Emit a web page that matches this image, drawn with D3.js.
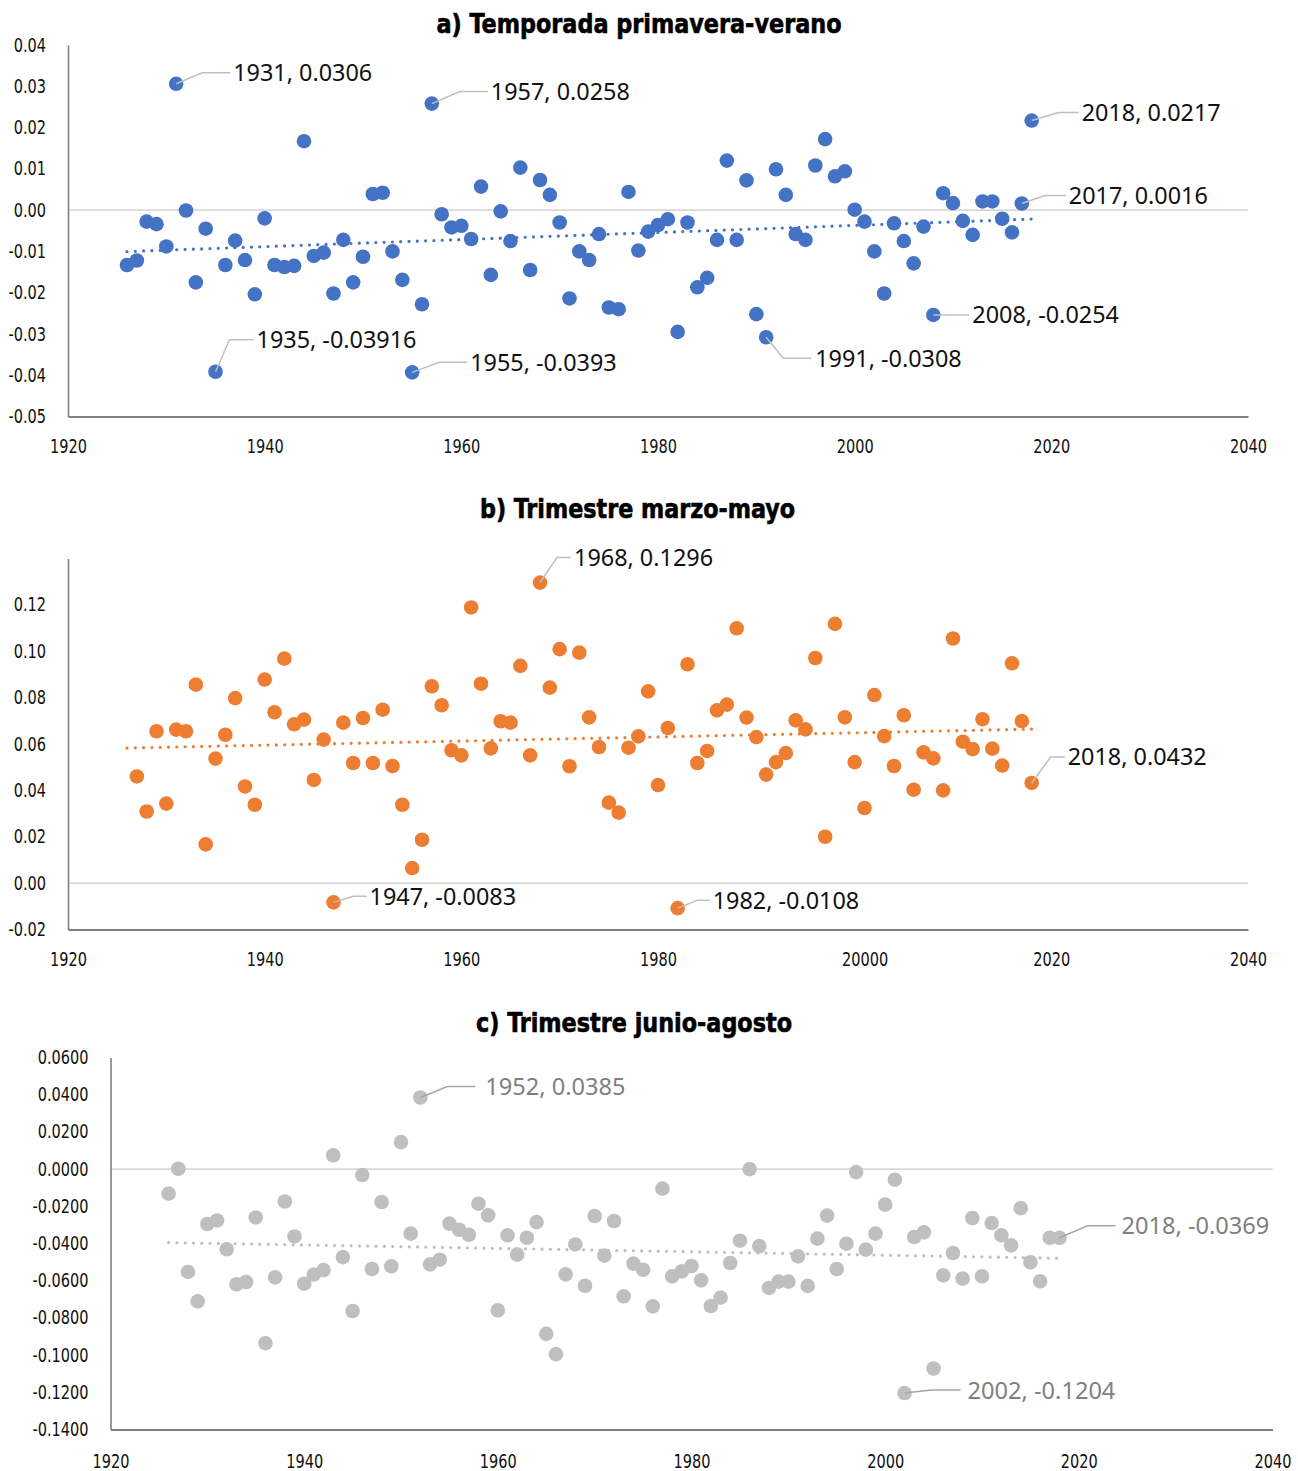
<!DOCTYPE html>
<html>
<head>
<meta charset="utf-8">
<script src="https://cdn.jsdelivr.net/npm/d3@7"></script>
<style>
  html, body { margin: 0; padding: 0; background: #ffffff; }
  svg { display: block; }
</style>
</head>
<body>
<svg id="chart" width="1298" height="1471"></svg>
<script>
// ---------------------------------------------------------------------------
// Data
// ---------------------------------------------------------------------------
const years = [
  1926, 1927, 1928, 1929, 1930, 1931, 1932, 1933, 1934, 1935,
  1936, 1937, 1938, 1939, 1940, 1941, 1942, 1943, 1944, 1945,
  1946, 1947, 1948, 1949, 1950, 1951, 1952, 1953, 1954, 1955,
  1956, 1957, 1958, 1959, 1960, 1961, 1962, 1963, 1964, 1965,
  1966, 1967, 1968, 1969, 1970, 1971, 1972, 1973, 1974, 1975,
  1976, 1977, 1978, 1979, 1980, 1981, 1982, 1983, 1984, 1985,
  1986, 1987, 1988, 1989, 1990, 1991, 1992, 1993, 1994, 1995,
  1996, 1997, 1998, 1999, 2000, 2001, 2002, 2003, 2004, 2005,
  2006, 2007, 2008, 2009, 2010, 2011, 2012, 2013, 2014, 2015,
  2016, 2017, 2018
];

// a) Temporada primavera-verano
const springSummer = [
  -0.0133, -0.0122, -0.0028, -0.0034, -0.0088, 0.0306, -0.0001, -0.0175, -0.0045, -0.03916,
  -0.0133, -0.0074, -0.0121, -0.0204, -0.0020, -0.0133, -0.0138, -0.0135, 0.0167, -0.0111,
  -0.0103, -0.0202, -0.0072, -0.0175, -0.0113, 0.0039, 0.0042, -0.0100, -0.0169, -0.0393,
  -0.0228, 0.0258, -0.0010, -0.0042, -0.0038, -0.0070, 0.0057, -0.0157, -0.0003, -0.0075,
  0.0103, -0.0145, 0.0073, 0.0037, -0.0030, -0.0214, -0.0100, -0.0121, -0.0058, -0.0236,
  -0.0240, 0.0044, -0.0098, -0.0052, -0.0036, -0.0022, -0.0295, -0.0030, -0.0187, -0.0164,
  -0.0072, 0.0120, -0.0072, 0.0072, -0.0252, -0.0308, 0.0099, 0.0037, -0.0058, -0.0072,
  0.0108, 0.0172, 0.0082, 0.0094, 0.0001, -0.0028, -0.0100, -0.0202, -0.0032, -0.0075,
  -0.0129, -0.0040, -0.0254, 0.0041, 0.0017, -0.0026, -0.0060, 0.0021, 0.0021, -0.0021,
  -0.0054, 0.0016, 0.0217
];

// b) Trimestre marzo-mayo (no value for 1926)
const marchMay = [
  null, 0.0460, 0.0309, 0.0655, 0.0343, 0.0662, 0.0655, 0.0856, 0.0167, 0.0537,
  0.0640, 0.0798, 0.0417, 0.0338, 0.0878, 0.0737, 0.0968, 0.0685, 0.0705, 0.0445,
  0.0619, -0.0083, 0.0692, 0.0518, 0.0712, 0.0518, 0.0748, 0.0505, 0.0338, 0.0065,
  0.0187, 0.0849, 0.0767, 0.0573, 0.0551, 0.1189, 0.0860, 0.0581, 0.0698, 0.0692,
  0.0937, 0.0551, 0.1296, 0.0843, 0.1009, 0.0504, 0.0994, 0.0715, 0.0587, 0.0347,
  0.0304, 0.0584, 0.0633, 0.0827, 0.0423, 0.0669, -0.0108, 0.0944, 0.0518, 0.0570,
  0.0745, 0.0770, 0.1099, 0.0714, 0.0630, 0.0468, 0.0522, 0.0561, 0.0702, 0.0663,
  0.0971, 0.0200, 0.1118, 0.0715, 0.0522, 0.0324, 0.0811, 0.0634, 0.0505, 0.0724,
  0.0403, 0.0564, 0.0538, 0.0400, 0.1055, 0.0610, 0.0578, 0.0707, 0.0580, 0.0507,
  0.0948, 0.0699, 0.0432
];

// c) Trimestre junio-agosto
const juneAugust = [
  -0.0132, 0.0002, -0.0553, -0.0711, -0.0295, -0.0276, -0.0431, -0.0619, -0.0607, -0.0260,
  -0.0936, -0.0582, -0.0174, -0.0362, -0.0616, -0.0567, -0.0543, 0.0074, -0.0473, -0.0763,
  -0.0032, -0.0537, -0.0177, -0.0523, 0.0145, -0.0347, 0.0385, -0.0512, -0.0487, -0.0293,
  -0.0326, -0.0353, -0.0186, -0.0249, -0.0759, -0.0356, -0.0460, -0.0369, -0.0285, -0.0886,
  -0.0995, -0.0566, -0.0405, -0.0627, -0.0252, -0.0465, -0.0279, -0.0684, -0.0508, -0.0541,
  -0.0738, -0.0105, -0.0577, -0.0550, -0.0521, -0.0598, -0.0736, -0.0691, -0.0505, -0.0385,
  0.0000, -0.0414, -0.0639, -0.0605, -0.0605, -0.0469, -0.0628, -0.0374, -0.0250, -0.0537,
  -0.0401, -0.0016, -0.0433, -0.0347, -0.0191, -0.0057, -0.1204, -0.0365, -0.0340, -0.1072,
  -0.0571, -0.0451, -0.0589, -0.0263, -0.0576, -0.0290, -0.0356, -0.0410, -0.0210, -0.0501,
  -0.0603, -0.0369, -0.0369
];

const titles = [
  "a) Temporada primavera-verano",
  "b) Trimestre marzo-mayo",
  "c) Trimestre junio-agosto"
];

const xTickValues = [1920, 1940, 1960, 1980, 2000, 2020, 2040];
const xTickLabelsA = ["1920", "1940", "1960", "1980", "2000", "2020", "2040"];
const xTickLabelsB = ["1920", "1940", "1960", "1980", "20000", "2020", "2040"];
const xTickLabelsC = ["1920", "1940", "1960", "1980", "2000", "2020", "2040"];

const yTickValuesA = [0.04, 0.03, 0.02, 0.01, 0.00, -0.01, -0.02, -0.03, -0.04, -0.05];
const yTickLabelsA = ["0.04", "0.03", "0.02", "0.01", "0.00", "-0.01", "-0.02", "-0.03", "-0.04", "-0.05"];
const yTickValuesB = [0.12, 0.10, 0.08, 0.06, 0.04, 0.02, 0.00, -0.02];
const yTickLabelsB = ["0.12", "0.10", "0.08", "0.06", "0.04", "0.02", "0.00", "-0.02"];
const yTickValuesC = [0.06, 0.04, 0.02, 0.00, -0.02, -0.04, -0.06, -0.08, -0.10, -0.12, -0.14];
const yTickLabelsC = ["0.0600", "0.0400", "0.0200", "0.0000", "-0.0200", "-0.0400", "-0.0600",
                      "-0.0800", "-0.1000", "-0.1200", "-0.1400"];

// Years that carry a "year, value" data label
const labelledYearsA = [1931, 1935, 1955, 1957, 1991, 2008, 2017, 2018];
const labelledYearsB = [1947, 1968, 1982, 2018];
const labelledYearsC = [1952, 2002, 2018];

// ---------------------------------------------------------------------------
// Layout
// ---------------------------------------------------------------------------
const narrowFont = "'Liberation Sans Narrow', 'DejaVu Sans Condensed', 'Arial Narrow', sans-serif";
const labelFont = "'Noto Sans', 'Open Sans', 'DejaVu Sans', sans-serif";
const tickSqueeze = 0.85;   // horizontal compression of axis tick labels

const panels = [
  {
    title: titles[0], titleY: 33, titleWidth: 405, titleCenter: 639,
    values: springSummer, dotColor: "#4472C4", trendColor: "#4472C4",
    left: 68, right: 1248, top: 45, bottom: 416.5,
    xDomain: [1920, 2040], yDomain: [-0.05, 0.04],
    yTicks: yTickValuesA, yLabels: yTickLabelsA, xLabels: xTickLabelsA, xPad: 23, xLabelShift: {},
    labelled: labelledYearsA, labelColor: "#111111", leaderColor: "#bfbfbf", labelSize: 23.4,
    // text offsets from the point (dx, dy), horizontal leader length h, gap before text
    notes: {
      1931: { dx: 57, dy: -11, h: 28, gap: 3 },
      1935: { dx: 41, dy: -32, h: 24, gap: 3 },
      1955: { dx: 58, dy: -10, h: 28, gap: 3 },
      1957: { dx: 59, dy: -12, h: 28, gap: 3 },
      1991: { dx: 49, dy: 21, h: 28, gap: 4 },
      2008: { dx: 39, dy: 0, h: 30, gap: 3 },
      2017: { dx: 47, dy: -8, h: 21, gap: 3 },
      2018: { dx: 50, dy: -8, h: 20, gap: 3 }
    }
  },
  {
    title: titles[1], titleY: 518, titleWidth: 315, titleCenter: 637.5,
    values: marchMay, dotColor: "#ED7D31", trendColor: "#ED7D31",
    left: 68, right: 1248, top: 558.5, bottom: 929.5,
    xDomain: [1920, 2040], yDomain: [-0.02, 0.14],
    yTicks: yTickValuesB, yLabels: yTickLabelsB, xLabels: xTickLabelsB, xPad: 23, xLabelShift: { 4: 10 },
    labelled: labelledYearsB, labelColor: "#111111", leaderColor: "#bfbfbf", labelSize: 23.4,
    notes: {
      1947: { dx: 36, dy: -6, h: 13, gap: 3 },
      1968: { dx: 34, dy: -25, h: 14, gap: 3 },
      1982: { dx: 35, dy: -8, h: 12, gap: 3 },
      2018: { dx: 36, dy: -26, h: 14, gap: 3 }
    }
  },
  {
    title: titles[2], titleY: 1032, titleWidth: 316, titleCenter: 634,
    values: juneAugust, dotColor: "#BFBFBF", trendColor: "#BFBFBF",
    left: 110.5, right: 1272.5, top: 1057.5, bottom: 1429.5,
    xDomain: [1920, 2040], yDomain: [-0.14, 0.06],
    yTicks: yTickValuesC, yLabels: yTickLabelsC, xLabels: xTickLabelsC, xPad: 25.5, xLabelShift: {},
    labelled: labelledYearsC, labelColor: "#7f7f7f", leaderColor: "#a6a6a6", labelSize: 23.6,
    notes: {
      1952: { dx: 65, dy: -11, h: 28, gap: 10 },
      2002: { dx: 63, dy: -3, h: 29, gap: 7 },
      2018: { dx: 62, dy: -12, h: 28, gap: 6 }
    }
  }
];

const svg = d3.select("#chart");
svg.append("rect").attr("width", 1298).attr("height", 1471).attr("fill", "#ffffff");

// Least-squares linear fit, as a spreadsheet trendline would compute it
function linearFit(points) {
  const mx = d3.mean(points, d => d.year);
  const my = d3.mean(points, d => d.value);
  let sxy = 0, sxx = 0;
  points.forEach(d => { sxy += (d.year - mx) * (d.value - my); sxx += (d.year - mx) * (d.year - mx); });
  const slope = sxy / sxx;
  return x => my + slope * (x - mx);
}

// Narrow the axis labels to a condensed look
function squeeze(selection) {
  selection.each(function () {
    const w = this.getComputedTextLength();
    d3.select(this).attr("textLength", w * tickSqueeze).attr("lengthAdjust", "spacingAndGlyphs");
  });
}

panels.forEach(p => {
  const g = svg.append("g");
  const x = d3.scaleLinear().domain(p.xDomain).range([p.left, p.right]);
  const y = d3.scaleLinear().domain(p.yDomain).range([p.bottom, p.top]);

  const points = years
    .map((yr, i) => ({ year: yr, value: p.values[i] }))
    .filter(d => d.value !== null);

  // Title
  g.append("text")
    .attr("x", p.titleCenter)
    .attr("y", p.titleY)
    .attr("text-anchor", "middle")
    .attr("font-family", narrowFont)
    .attr("font-weight", "bold")
    .attr("font-size", 27)
    .attr("textLength", p.titleWidth)
    .attr("lengthAdjust", "spacingAndGlyphs")
    .attr("stroke", "#000").attr("stroke-width", 0.6)
    .attr("fill", "#000")
    .text(p.title);

  // Zero reference line
  g.append("line")
    .attr("x1", p.left).attr("x2", p.right)
    .attr("y1", y(0)).attr("y2", y(0))
    .attr("stroke", "#d9d9d9").attr("stroke-width", 1.6);

  // Y axis
  const yAxis = d3.axisLeft(y)
    .tickValues(p.yTicks)
    .tickFormat((d, i) => p.yLabels[i])
    .tickSize(0)
    .tickPadding(22);
  const yg = g.append("g").attr("transform", `translate(${p.left},0)`).call(yAxis);
  yg.select(".domain").attr("stroke", "#808080").attr("stroke-width", 1.6);
  yg.selectAll("text")
    .attr("font-family", narrowFont).attr("font-size", 19).attr("fill", "#111")
    .call(squeeze);

  // X axis
  const xAxis = d3.axisBottom(x)
    .tickValues(xTickValues)
    .tickFormat((d, i) => p.xLabels[i])
    .tickSize(0)
    .tickPadding(p.xPad);
  const xg = g.append("g").attr("transform", `translate(0,${p.bottom})`).call(xAxis);
  xg.select(".domain").attr("stroke", "#808080").attr("stroke-width", 2);
  xg.selectAll("text")
    .attr("font-family", narrowFont).attr("font-size", 19).attr("fill", "#111")
    .attr("dx", (d, i) => p.xLabelShift[i] || 0)
    .call(squeeze);

  // Dotted linear trendline across the year range
  const fit = linearFit(points);
  const [x0, x1] = d3.extent(years);
  g.append("path")
    .datum([x0, x1])
    .attr("d", d3.line().x(d => x(d)).y(d => y(fit(d))))
    .attr("fill", "none")
    .attr("stroke", p.trendColor)
    .attr("stroke-width", 3.2)
    .attr("stroke-linecap", "round")
    .attr("stroke-dasharray", "0 8.3");

  // Points
  g.append("g").selectAll("circle")
    .data(points)
    .join("circle")
    .attr("cx", d => x(d.year))
    .attr("cy", d => y(d.value))
    .attr("r", 7.3)
    .attr("fill", p.dotColor);

  // Data labels with leader lines
  const labelled = points.filter(d => p.labelled.includes(d.year));
  labelled.forEach(d => {
    const o = p.notes[d.year];
    const px = x(d.year), py = y(d.value);
    const tx = px + o.dx, ty = py + o.dy;
    const endX = tx - o.gap;
    const elbowX = endX - o.h;
    g.append("path")
      .attr("d", d3.line()([[px, py], [elbowX, ty], [endX, ty]]))
      .attr("fill", "none")
      .attr("stroke", p.leaderColor)
      .attr("stroke-width", 1.5);
    g.append("text")
      .attr("x", tx)
      .attr("y", ty)
      .attr("dy", "0.36em")
      .attr("font-family", labelFont)
      .attr("font-size", p.labelSize)
      .attr("fill", p.labelColor)
      .text(`${d.year}, ${d.value}`);
  });
});
</script>
</body>
</html>
